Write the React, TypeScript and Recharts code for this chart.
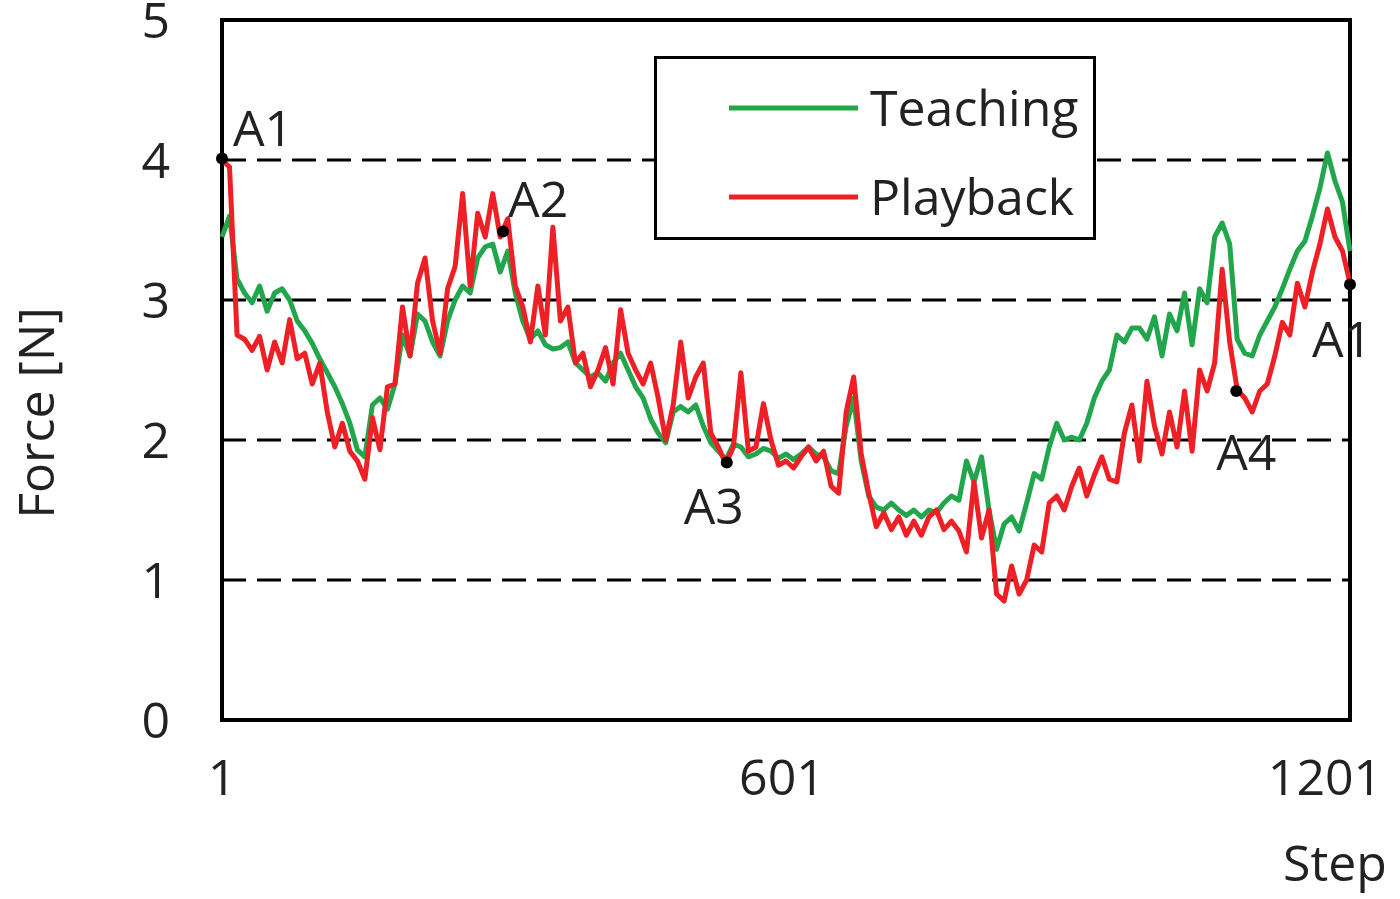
import React from 'react';
import {
  ComposedChart,
  Line,
  XAxis,
  YAxis,
  CartesianGrid,
  ReferenceArea,
  ReferenceDot,
  Legend,
} from 'recharts';

// ---------- data ----------
const steps = [
  1, 9, 17, 25, 33, 41, 49, 57, 65, 73,
  81, 89, 97, 105, 113, 121, 129, 137, 145, 153,
  161, 169, 177, 185, 193, 201, 209, 217, 225, 233,
  241, 249, 257, 265, 273, 281, 289, 297, 305, 313,
  321, 329, 337, 345, 353, 361, 369, 377, 385, 393,
  401, 409, 417, 425, 433, 441, 449, 457, 465, 473,
  481, 489, 497, 505, 513, 521, 529, 537, 545, 553,
  561, 569, 577, 585, 593, 601, 609, 617, 625, 633,
  641, 649, 657, 665, 673, 681, 689, 697, 705, 713,
  721, 729, 737, 745, 753, 761, 769, 777, 785, 793,
  801, 809, 817, 825, 833, 841, 849, 857, 865, 873,
  881, 889, 897, 905, 913, 921, 929, 937, 945, 953,
  961, 969, 977, 985, 993, 1001, 1009, 1017, 1025, 1033,
  1041, 1049, 1057, 1065, 1073, 1081, 1089, 1097, 1105, 1113,
  1121, 1129, 1137, 1145, 1153, 1161, 1169, 1177, 1185, 1193,
  1201,
];

const teaching = [
  3.45, 3.6, 3.15, 3.05, 2.98, 3.1, 2.92, 3.05, 3.08, 3.0,
  2.85, 2.78, 2.69, 2.58, 2.48, 2.38, 2.26, 2.12, 1.93, 1.88,
  2.25, 2.3, 2.22, 2.4, 2.75, 2.6, 2.9, 2.85, 2.7, 2.6,
  2.85, 3.0, 3.1, 3.05, 3.3, 3.38, 3.4, 3.2, 3.35, 3.05,
  2.85, 2.72, 2.78, 2.68, 2.65, 2.66, 2.7, 2.55, 2.5, 2.45,
  2.48, 2.42, 2.55, 2.62, 2.5, 2.38, 2.3, 2.15, 2.05, 1.98,
  2.2, 2.24, 2.2, 2.25, 2.1, 1.98, 1.92, 1.86, 1.97, 1.95,
  1.88, 1.9, 1.94, 1.92, 1.87, 1.9, 1.86, 1.9, 1.95, 1.9,
  1.88, 1.78, 1.76, 2.1, 2.3, 1.85, 1.6, 1.52, 1.5, 1.55,
  1.5, 1.46, 1.5, 1.45, 1.5, 1.48, 1.55, 1.6, 1.57, 1.85,
  1.7, 1.88, 1.5, 1.22, 1.4, 1.45, 1.35, 1.55, 1.76, 1.72,
  1.95, 2.12, 2.0, 2.02, 2.0, 2.12, 2.3, 2.42, 2.5, 2.75,
  2.7, 2.8, 2.8, 2.72, 2.88, 2.6, 2.9, 2.78, 3.05, 2.68,
  3.08, 2.98, 3.45, 3.55, 3.4, 2.72, 2.62, 2.6, 2.75, 2.85,
  2.95, 3.08, 3.22, 3.35, 3.42, 3.6, 3.8, 4.05, 3.85, 3.7,
  3.35,
];

const playback = [
  4.0, 3.95, 2.75, 2.72, 2.64, 2.74, 2.5, 2.7, 2.55, 2.86,
  2.58, 2.62, 2.4, 2.55, 2.2, 1.95, 2.12, 1.92, 1.85, 1.72,
  2.16, 1.93, 2.38, 2.4, 2.95, 2.6, 3.12, 3.3, 2.85, 2.62,
  3.08, 3.24, 3.76, 3.1, 3.62, 3.45, 3.76, 3.45, 3.58, 3.1,
  2.95, 2.7, 3.1, 2.75, 3.52, 2.85, 2.95, 2.55, 2.62, 2.38,
  2.5, 2.66, 2.4, 2.93, 2.62, 2.5, 2.4, 2.55, 2.3, 2.0,
  2.25, 2.7, 2.3, 2.45, 2.55, 2.05, 1.95, 1.83, 1.95, 2.48,
  1.92, 1.95, 2.26, 2.0, 1.82, 1.85, 1.8, 1.88, 1.95, 1.85,
  1.92, 1.67, 1.62, 2.2, 2.45, 1.9, 1.62, 1.38, 1.48, 1.36,
  1.45, 1.32, 1.42, 1.32, 1.45, 1.5, 1.36, 1.42, 1.35, 1.2,
  1.7, 1.3, 1.5, 0.9, 0.85, 1.1, 0.9, 1.0, 1.25, 1.2,
  1.55, 1.6, 1.5, 1.67, 1.8, 1.6, 1.75, 1.88, 1.72, 1.7,
  2.05, 2.25, 1.85, 2.42, 2.1, 1.9, 2.2, 1.95, 2.35, 1.92,
  2.5, 2.35, 2.55, 3.22, 2.7, 2.36, 2.3, 2.2, 2.35, 2.4,
  2.6, 2.84, 2.75, 3.12, 2.95, 3.2, 3.4, 3.65, 3.45, 3.35,
  3.12,
];

const yTicks = [0, 1, 2, 3, 4, 5];
const xTicks = [1, 601, 1201];

const markerNames = ['A1', 'A2', 'A3', 'A4', 'A1'];
const markerSteps = [1, 300, 538, 1080, 1201];
const markerValues = [4.01, 3.49, 1.84, 2.35, 3.11];

// ---------- styles ----------
const FONT = '"Open Sans", sans-serif';
const TEXT_COLOR = '#222';
const GREEN = '#22a64b';
const RED = '#ee1f25';
const FS = 50;

const xTickShift = [0, -4, -25];
const markerLabelStyle = [
  { dx: 11, dy: -13, anchor: 'start' },
  { dx: 5, dy: -14, anchor: 'start' },
  { dx: -13, dy: 62, anchor: 'middle' },
  { dx: 10, dy: 79, anchor: 'middle' },
  { dx: -8, dy: 72, anchor: 'middle' },
];

const tableData = steps.map((s, i) => ({
  step: s,
  teaching: teaching[i],
  playback: playback[i],
}));

const YTick = (props: any) => {
  const { y, payload } = props;
  return (
    <text x={170} y={y} dy="0.36em" textAnchor="end" fontSize={FS} fontFamily={FONT} fill={TEXT_COLOR}>
      {payload.value}
    </text>
  );
};

const XTick = (props: any) => {
  const { x, payload } = props;
  const idx = xTicks.indexOf(payload.value);
  return (
    <text x={x + (xTickShift[idx] || 0)} y={795} textAnchor="middle" fontSize={FS} fontFamily={FONT} fill={TEXT_COLOR}>
      {payload.value}
    </text>
  );
};

const makeMarkerLabel = (i: number) => (props: any) => {
  const vb = props.viewBox || {};
  const cx = (vb.x || 0) + (vb.width || 0) / 2;
  const cy = (vb.y || 0) + (vb.height || 0) / 2;
  const st = markerLabelStyle[i];
  return (
    <text
      x={cx + st.dx}
      y={cy + st.dy}
      textAnchor={st.anchor as any}
      fontSize={FS}
      fontFamily={FONT}
      fill={TEXT_COLOR}
    >
      {markerNames[i]}
    </text>
  );
};

const LegendBox = () => (
  <div
    style={{
      width: 442,
      height: 184,
      boxSizing: 'border-box',
      border: '3px solid #000',
      background: '#fff',
      position: 'relative',
    }}
  >
    <svg width={436} height={178} style={{ position: 'absolute', left: 0, top: 0 }}>
      <line x1={72} x2={201} y1={49} y2={49} stroke={GREEN} strokeWidth={5} />
      <line x1={72} x2={201} y1={138} y2={138} stroke={RED} strokeWidth={5} />
      <text x={213} y={49} dy="0.36em" fontSize={FS} fontFamily={FONT} fill={TEXT_COLOR}>
        Teaching
      </text>
      <text x={213} y={138} dy="0.36em" fontSize={FS} fontFamily={FONT} fill={TEXT_COLOR}>
        Playback
      </text>
    </svg>
  </div>
);

export default function App() {
  return (
    <div style={{ position: 'absolute', left: 0, top: 0, width: 1400, height: 899, background: '#fff' }}>
      <ComposedChart
        width={1400}
        height={899}
        data={tableData}
        margin={{ top: 20, right: 50, bottom: 0, left: 0 }}
      >
        <CartesianGrid
          vertical={false}
          stroke="#000"
          strokeWidth={3}
          strokeDasharray="24 11"
        />
        <XAxis
          dataKey="step"
          type="number"
          domain={[1, 1201]}
          ticks={xTicks}
          axisLine={false}
          tickLine={false}
          height={179}
          tick={<XTick />}
          interval={0}
          label={(p: any) => {
            const vb = p.viewBox || {};
            return (
              <text
                x={(vb.x || 0) + (vb.width || 0) - 15}
                y={881}
                textAnchor="middle"
                fontSize={FS}
                fontFamily={FONT}
                fill={TEXT_COLOR}
              >
                Step
              </text>
            );
          }}
        />
        <YAxis
          type="number"
          domain={[0, 5]}
          ticks={yTicks}
          axisLine={false}
          tickLine={false}
          width={222}
          tick={<YTick />}
          interval={0}
          label={() => (
            <text
              x={35}
              y={413}
              transform="rotate(-90, 35, 413)"
              textAnchor="middle"
              dominantBaseline="central"
              fontSize={FS}
              fontFamily={FONT}
              fill={TEXT_COLOR}
            >
              Force [N]
            </text>
          )}
        />
        <Line
          dataKey="teaching"
          name="Teaching"
          type="linear"
          stroke={GREEN}
          strokeWidth={5}
          strokeLinejoin="round"
          dot={false}
          activeDot={false}
          isAnimationActive={false}
        />
        <Line
          dataKey="playback"
          name="Playback"
          type="linear"
          stroke={RED}
          strokeWidth={5}
          strokeLinejoin="round"
          dot={false}
          activeDot={false}
          isAnimationActive={false}
        />
        <ReferenceArea
          x1={1}
          x2={1201}
          y1={0}
          y2={5}
          fill="none"
          fillOpacity={0}
          stroke="#000"
          strokeWidth={4}
          ifOverflow="visible"
        />
        {markerSteps.map((s, i) => (
          <ReferenceDot
            key={i}
            x={s}
            y={markerValues[i]}
            r={6}
            fill="#000"
            stroke="none"
            ifOverflow="visible"
            label={makeMarkerLabel(i)}
          />
        ))}
        <Legend
          layout="horizontal"
          verticalAlign="middle"
          align="center"
          wrapperStyle={{ left: 654, top: 56, width: 442, height: 184 }}
          content={() => <LegendBox />}
        />
      </ComposedChart>
    </div>
  );
}
